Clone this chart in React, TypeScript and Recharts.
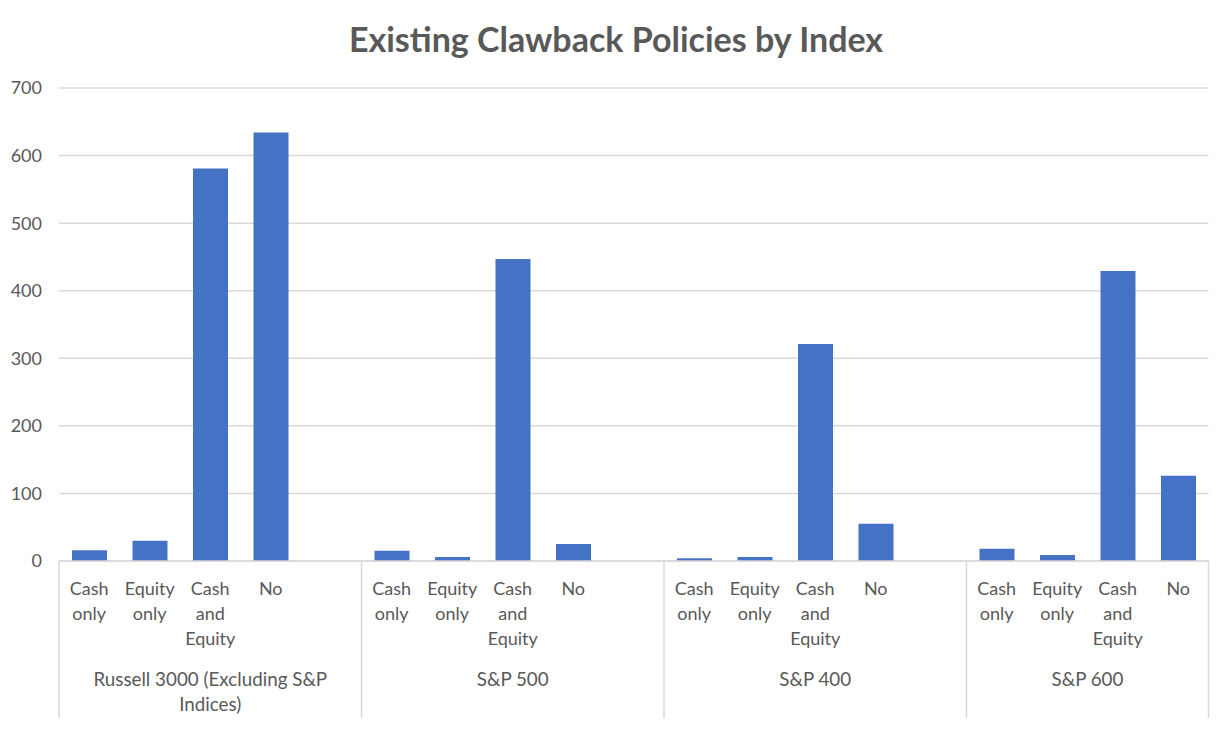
import { BarChart, Bar, XAxis, YAxis, CartesianGrid } from "recharts";

const TITLE = "Existing Clawback Policies by Index";
const GROUPS = ["Russell 3000 (Excluding S&P Indices)", "S&P 500", "S&P 400", "S&P 600"];
const POLICY_TYPES = ["Cash only", "Equity only", "Cash and Equity", "No"];

// companies per policy type, in POLICY_TYPES order
const RUSSELL_3000 = [16, 30, 581, 634];
const SP_500 = [15, 6, 447, 25];
const SP_400 = [4, 6, 321, 55];
const SP_600 = [18, 9, 429, 126];

const Y_TICKS = [0, 100, 200, 300, 400, 500, 600, 700];

const SERIES = [RUSSELL_3000, SP_500, SP_400, SP_600];

const WIDTH = 1232;
const HEIGHT = 729;
const MARGIN = { top: 88, right: 23.5, left: 0, bottom: 0 };
const Y_AXIS_WIDTH = 59;
const TEXT = "#595959";
const GRID = "#d9d9d9";
const FONT = "Lato, 'Open Sans', sans-serif";

interface Row {
  key: string;
  label: string;
  group: number;
  first: boolean;
  value: number | null;
}

// Excel-style layout: a blank slot after every group but the last
const rows: Row[] = [];
GROUPS.forEach((_, gi) => {
  POLICY_TYPES.forEach((p, pi) => {
    rows.push({ key: `${gi}-${pi}`, label: p, group: gi, first: pi === 0, value: SERIES[gi][pi] });
  });
  if (gi < GROUPS.length - 1) {
    rows.push({ key: `${gi}-gap`, label: "", group: gi, first: false, value: null });
  }
});

const slotsPerGroup = GROUPS.map((_, gi) => rows.filter((r) => r.group === gi).length);
const SLOT = (WIDTH - MARGIN.left - MARGIN.right - Y_AXIS_WIDTH) / rows.length;

function wrap(text: string, maxChars: number): string[] {
  const out: string[] = [];
  let line = "";
  text.split(" ").forEach((w) => {
    const next = line ? `${line} ${w}` : w;
    if (next.length > maxChars && line) {
      out.push(line);
      line = w;
    } else {
      line = next;
    }
  });
  if (line) out.push(line);
  return out;
}

function CategoryTick(props: any) {
  const { x, y, payload } = props;
  const row = rows.find((r) => r.key === payload.value);
  if (!row) return null;
  const lines = row.label ? row.label.split(" ") : [];
  const left = x - SLOT / 2;
  const isLast = payload.value === rows[rows.length - 1].key;
  const groupCenter = left + (slotsPerGroup[row.group] * SLOT) / 2;
  return (
    <g>
      {lines.map((l, i) => (
        <text key={i} x={x} y={y + 34 + i * 25} textAnchor="middle" fill={TEXT} fontSize={18} fontFamily={FONT}>
          {l}
        </text>
      ))}
      {row.first && <line x1={left} x2={left} y1={y} y2={y + 157} stroke={GRID} strokeWidth={1.5} />}
      {row.first &&
        wrap(GROUPS[row.group], 28).map((l, i) => (
          <text
            key={`g${i}`}
            x={groupCenter}
            y={y + 125 + i * 25}
            textAnchor="middle"
            fill={TEXT}
            fontSize={18.8}
            fontFamily={FONT}
          >
            {l}
          </text>
        ))}
      {isLast && <line x1={x + SLOT / 2} x2={x + SLOT / 2} y1={y} y2={y + 157} stroke={GRID} strokeWidth={1.5} />}
    </g>
  );
}

export default function App() {
  return (
    <div style={{ position: "absolute", left: 0, top: 0, width: WIDTH, height: HEIGHT, background: "#fff" }}>
      <BarChart width={WIDTH} height={HEIGHT} data={rows} margin={MARGIN}>
        <CartesianGrid vertical={false} stroke={GRID} strokeWidth={1.5} />
        <XAxis
          dataKey="key"
          interval={0}
          height={HEIGHT - MARGIN.top - 473}
          axisLine={{ stroke: GRID, strokeWidth: 1.5 }}
          tickLine={false}
          tickSize={0}
          tickMargin={0}
          tick={<CategoryTick />}
        />
        <YAxis
          domain={[0, 700]}
          ticks={Y_TICKS}
          width={Y_AXIS_WIDTH}
          axisLine={false}
          tickLine={false}
          tickSize={0}
          tickMargin={17}
          tick={{ fill: TEXT, fontSize: 18, fontFamily: FONT }}
        />
        <Bar dataKey="value" fill="#4472c4" barSize={35} isAnimationActive={false} />
      </BarChart>
      <svg width={WIDTH} height={80} style={{ position: "absolute", left: 0, top: 0 }}>
        <text x={WIDTH / 2} y={52} textAnchor="middle" fill={TEXT} fontSize={34} fontWeight="bold" fontFamily={FONT}>
          {TITLE}
        </text>
      </svg>
    </div>
  );
}
